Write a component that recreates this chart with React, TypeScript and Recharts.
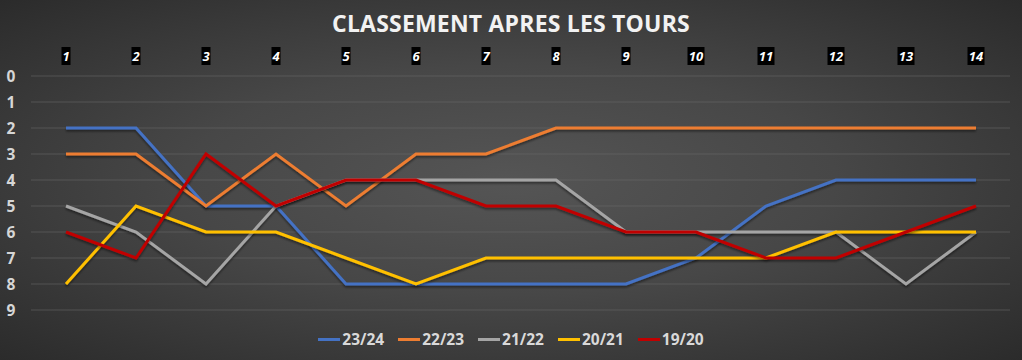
import React from 'react';
import { LineChart, Line, XAxis, YAxis, CartesianGrid } from 'recharts';

const tours = [1, 2, 3, 4, 5, 6, 7, 8, 9, 10, 11, 12, 13, 14];
const saison2324 = [2, 2, 5, 5, 8, 8, 8, 8, 8, 7, 5, 4, 4, 4];
const saison2223 = [3, 3, 5, 3, 5, 3, 3, 2, 2, 2, 2, 2, 2, 2];
const saison2122 = [5, 6, 8, 5, 4, 4, 4, 4, 6, 6, 6, 6, 8, 6];
const saison2021 = [8, 5, 6, 6, 7, 8, 7, 7, 7, 7, 7, 6, 6, 6];
const saison1920 = [6, 7, 3, 5, 4, 4, 5, 5, 6, 6, 7, 7, 6, 5];
const rangTicks = [0, 1, 2, 3, 4, 5, 6, 7, 8, 9];

const series = [
  { key: '23/24', values: saison2324, color: '#4472C4' },
  { key: '22/23', values: saison2223, color: '#ED7D31' },
  { key: '21/22', values: saison2122, color: '#A5A5A5' },
  { key: '20/21', values: saison2021, color: '#FFC000' },
  { key: '19/20', values: saison1920, color: '#C00000' },
];

const data = tours.map((t, i) => {
  const row: Record<string, number> = { tour: t };
  series.forEach((s) => {
    row[s.key] = s.values[i];
  });
  return row;
});

const font = '"Open Sans", "Noto Sans", sans-serif';

const TourTick = (props: any) => {
  const { x, payload } = props;
  const label = String(payload.value);
  const w = label.length > 1 ? 17 : 9;
  return (
    <g>
      <rect x={x - w / 2} y={47} width={w} height={18} fill="#000" />
      <text
        x={x}
        y={61}
        textAnchor="middle"
        fill="#fff"
        fontSize={13}
        fontWeight="bold"
        fontStyle="italic"
        fontFamily={font}
      >
        {label}
      </text>
    </g>
  );
};

const RangTick = (props: any) => {
  const { y, payload } = props;
  return (
    <text
      x={11}
      y={y + 5.5}
      textAnchor="middle"
      fill="#d6d6d6"
      fontSize={15.5}
      fontWeight="bold"
      fontFamily={font}
    >
      {payload.value}
    </text>
  );
};

export default function App() {
  return (
    <div
      style={{
        position: 'absolute',
        left: 0,
        top: 0,
        width: 1022,
        height: 360,
        background: 'radial-gradient(ellipse at 50% 50%, #555555 0%, #474747 45%, #2b2b2b 100%)',
        fontFamily: font,
      }}
    >
      <div
        style={{
          position: 'absolute',
          top: 7,
          width: '100%',
          textAlign: 'center',
          color: '#f2f2f2',
          fontSize: 23,
          fontWeight: 'bold',
          letterSpacing: 0.2,
        }}
      >
        CLASSEMENT APRES LES TOURS
      </div>
      <LineChart
        width={1022}
        height={360}
        data={data}
        margin={{ top: 46, right: 12, left: 0, bottom: 50 }}
        style={{ position: 'absolute', left: 0, top: 0 }}
      >
        <defs>
          <filter id="ombre" x="-5%" y="-20%" width="110%" height="140%">
            <feDropShadow dx="0" dy="2" stdDeviation="1.2" floodColor="#000" floodOpacity="0.45" />
          </filter>
        </defs>
        <CartesianGrid vertical={false} stroke="#6b6b6b" strokeOpacity={0.55} />
        <XAxis
          dataKey="tour"
          orientation="top"
          height={30}
          axisLine={false}
          tickLine={false}
          padding={{ left: 35, right: 34 }}
          tick={<TourTick />}
          interval={0}
        />
        <YAxis
          type="number"
          domain={[0, 9]}
          ticks={rangTicks}
          reversed
          width={31}
          axisLine={false}
          tickLine={false}
          tick={<RangTick />}
          interval={0}
        />
        {series.map((s) => (
          <Line
            key={s.key}
            dataKey={s.key}
            stroke={s.color}
            strokeWidth={3}
            dot={false}
            type="linear"
            isAnimationActive={false}
            filter="url(#ombre)"
          />
        ))}
      </LineChart>
      <div
        style={{
          position: 'absolute',
          top: 328,
          width: '100%',
          display: 'flex',
          justifyContent: 'center',
          gap: 14,
          color: '#d9d9d9',
          fontSize: 15.5,
          fontWeight: 'bold',
        }}
      >
        {series.map((s) => (
          <div key={s.key} style={{ display: 'flex', alignItems: 'center' }}>
            <span style={{ display: 'inline-block', width: 22, height: 3, background: s.color, marginRight: 2 }} />
            <span>{s.key}</span>
          </div>
        ))}
      </div>
    </div>
  );
}
